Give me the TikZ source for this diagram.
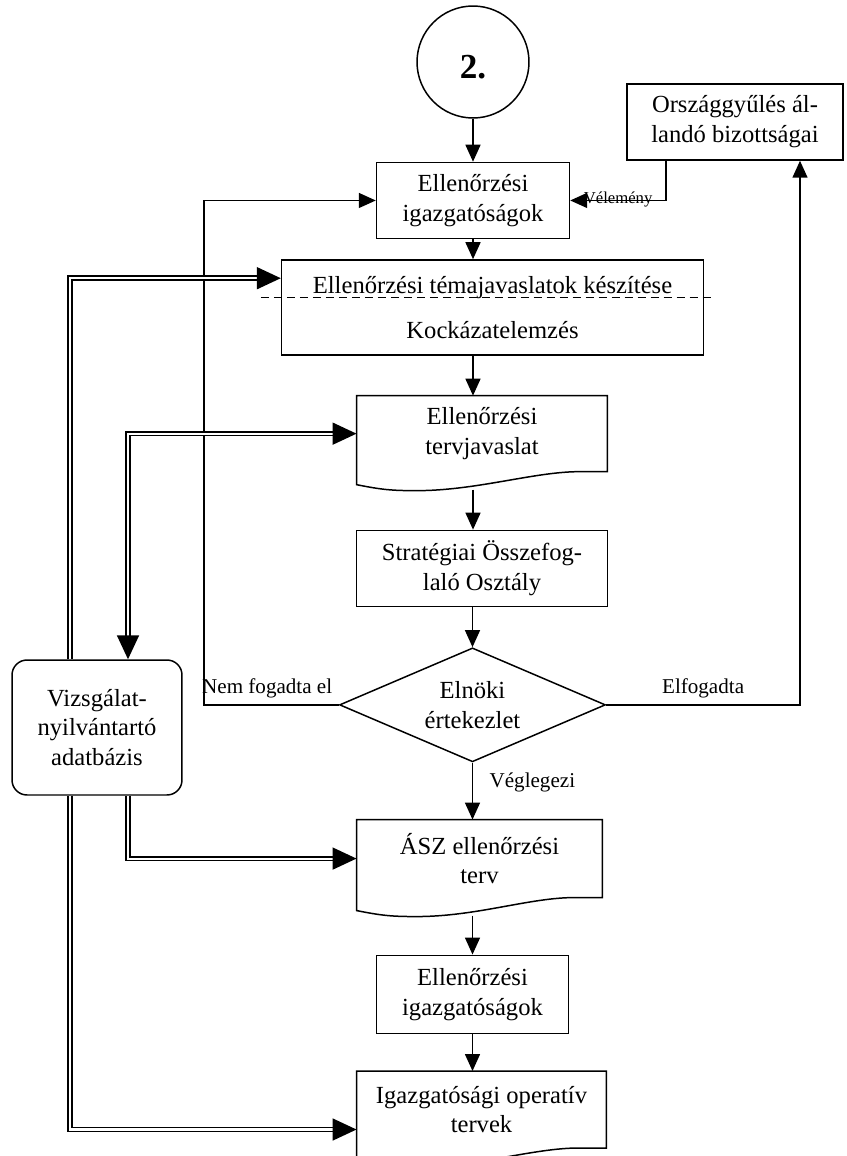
\documentclass[tikz,border=0pt]{standalone}
\usepackage{fontspec}
\setmainfont{Liberation Serif}
\usetikzlibrary{arrows.meta,positioning,calc,shapes.geometric}

% outline of a document box (flat top, wavy bottom)
\newcommand{\docoutline}[1]{%
  \draw[line width=0.85pt] (#1.south east) -- (#1.north east) -- (#1.north west)
    -- ($(#1.south west)+(0,13)$)
    .. controls +(25,5) and +(-25,0) .. ($(#1.south west)+(60,19)$)
    .. controls +(60,0) and +(-45,0) .. ($(#1.south east)+(-28,0)$) -- cycle;}

\begin{document}
\begin{tikzpicture}[
  x=0.02cm, y=-0.02cm,
  box/.style={draw, line width=0.85pt, rectangle, align=center, inner sep=0pt, minimum height=1.52cm, font=\fontsize{14}{17}\selectfont},
  docbox/.style={rectangle, align=center, inner sep=0pt, outer sep=0pt, minimum height=1.52cm, font=\fontsize{14}{17}\selectfont},
  startc/.style={draw, line width=0.85pt, circle, minimum size=2.24cm, inner sep=0pt, text height=19pt, text depth=0pt, font=\bfseries\fontsize{20}{22}\selectfont},
  decision/.style={draw, line width=0.85pt, diamond, aspect=2.33, minimum width=5.32cm, minimum height=2.28cm, inner sep=0pt, align=center, font=\fontsize{14}{17}\selectfont},
  dbbox/.style={draw, line width=0.85pt, rounded corners=0.3cm, align=center, inner sep=0pt, minimum width=3.4cm, minimum height=2.7cm, font=\fontsize{14}{17}\selectfont},
  lbl/.style={font=\fontsize{12}{14}\selectfont},
  arrow/.style={-{Triangle[length=3.4mm,width=3mm]}, line width=0.85pt},
  dblarrow/.style={double, double distance=1.2pt, line width=1pt, -{Triangle[length=4.8mm,width=4.4mm,fill=black]}},
  dblboth/.style={double, double distance=1.2pt, line width=1pt, {Triangle[length=4.8mm,width=4.4mm,fill=black]}-{Triangle[length=4.8mm,width=4.4mm,fill=black]}}
]
\useasboundingbox (0,0) rectangle (846,1156);

\node[startc] (start) at (473,62) {2.};
\node[box, minimum width=3.86cm, below=0.86cm of start] (igazg1) {Ellenőrzési\\igazgatóságok};
\node[box, minimum width=8.44cm, minimum height=1.9cm, below=0.4cm of igazg1, xshift=0.39cm] (tema) {Ellenőrzési témajavaslatok készítése\\[9pt]Kockázatelemzés};
\node[docbox, minimum width=5.02cm, below=0.8cm of tema, xshift=-0.21cm] (tervjav) {Ellenőrzési\\tervjavaslat};
\node[box, minimum width=5.02cm, below=1.16cm of tervjav] (strat) {Stratégiai Összefog-\\laló Osztály};
\node[decision, below=0.8cm of strat, xshift=-0.19cm] (elnoki) {Elnöki\\értekezlet};
\node[docbox, minimum width=4.92cm, minimum height=1.56cm, below=1.14cm of elnoki, xshift=0.14cm] (asz) {ÁSZ ellenőrzési\\terv};
\node[box, minimum width=3.84cm, minimum height=1.56cm, below=1.14cm of asz, xshift=-0.14cm] (igazg2) {Ellenőrzési\\igazgatóságok};
\node[docbox, minimum width=5cm, minimum height=1.54cm, below=0.74cm of igazg2, xshift=0.18cm] (operativ) {Igazgatósági operatív\\tervek};
\node[box, minimum width=4.32cm] (orszag) at (735,122) {Országgyűlés ál-\\landó bizottságai};
\node[dbbox] (db) at (97,727.5) {Vizsgálat-\\nyilvántartó\\adatbázis};

\docoutline{tervjav}
\docoutline{asz}
\docoutline{operativ}

\coordinate (nemx) at (204,0);
\coordinate (elfx) at (800,0);
\coordinate (velx) at (666,0);
\coordinate (col1) at (70,0);
\coordinate (col2) at (128,0);

\draw[dashed, dash pattern=on 1.6mm off 1mm, line width=0.8pt] ($(tema.north west)+(-20,38)$) -- ($(tema.north east)+(10,38)$);

\draw[arrow] (start) -- (igazg1);
\draw[arrow] (igazg1.south) -- (igazg1.south |- tema.north);
\draw[arrow] (tema.south -| igazg1) -- (tervjav.north -| igazg1);
\draw[arrow] ($(tervjav.south -| igazg1)+(0,18)$) -- (strat.north -| igazg1);
\draw[arrow] (strat.south -| elnoki) -- (elnoki.north);
\draw[arrow] (elnoki.south) -- node[lbl, right=6pt, pos=0.35] {Véglegezi} (asz.north -| elnoki);
\draw[arrow] ($(asz.south -| igazg2)+(0,18)$) -- (igazg2.north);
\draw[arrow] (igazg2.south) -- (operativ.north -| igazg2);

\draw[arrow] (elnoki.west) -- node[lbl, above left, pos=0] {Nem fogadta el} (elnoki.west -| nemx) |- (igazg1.west);
\draw[arrow] (elnoki.east) -- node[lbl, above] {Elfogadta} (elnoki.east -| elfx) -- (elfx |- orszag.south);
\draw[arrow] (orszag.south -| velx) |- node[font=\fontsize{9.5}{11}\selectfont, pos=0.75, anchor=base, yshift=-0.06cm, inner sep=0pt] {Vélemény} (igazg1.east);

\draw[dblarrow] (db.north -| col1) |- ($(tema.north west)+(0,19)$);
\draw[dblboth] (tervjav.west) -| (db.north -| col2);
\draw[dblarrow] (db.south -| col2) |- (asz.west);
\draw[dblarrow] (db.south -| col1) |- ($(operativ.west)+(0,20)$);
\end{tikzpicture}
\end{document}
